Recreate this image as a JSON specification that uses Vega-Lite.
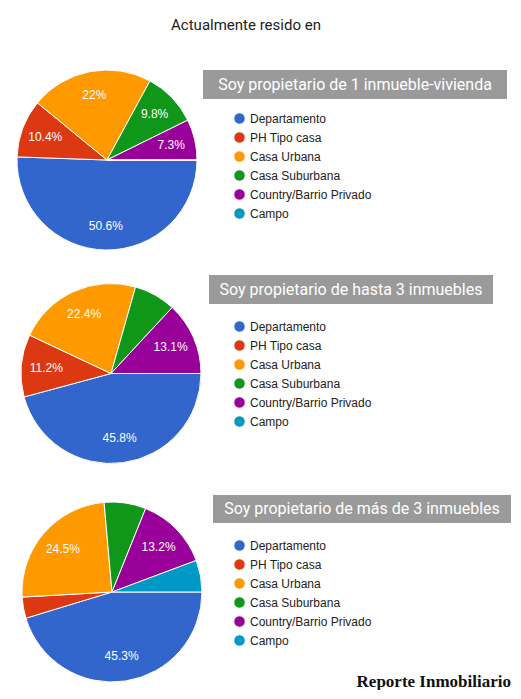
{
  "$schema": "https://vega.github.io/schema/vega-lite/v6.json",
  "padding": {"left": 15, "top": 18, "right": 0, "bottom": 0},
  "background": "white",
  "title": {
    "text": "Actualmente resido en",
    "font": "Roboto",
    "fontSize": 15,
    "fontWeight": "normal",
    "color": "#212121",
    "anchor": "middle",
    "dx": -17,
    "offset": 35
  },
  "config": {
    "view": {"stroke": null},
    "legend": {
      "orient": "none",
      "title": null,
      "symbolType": "circle",
      "symbolSize": 130,
      "symbolStrokeWidth": 0,
      "symbolOpacity": 1,
      "labelFont": "Liberation Sans",
      "labelFontSize": 12,
      "labelColor": "#222222",
      "labelOffset": 4,
      "rowPadding": 2,
      "padding": 0
    },
    "arc": {"outerRadius": 90, "stroke": "white", "strokeWidth": 1},
    "text": {"font": "Liberation Sans"}
  },
  "datasets": {
    "uno": [
      {"tipo": "Departamento", "orden": 1, "pct": 50.6, "etiqueta": "50.6%"},
      {"tipo": "PH Tipo casa", "orden": 2, "pct": 10.4, "etiqueta": "10.4%"},
      {"tipo": "Casa Urbana", "orden": 3, "pct": 22, "etiqueta": "22%"},
      {"tipo": "Casa Suburbana", "orden": 4, "pct": 9.8, "etiqueta": "9.8%"},
      {"tipo": "Country/Barrio Privado", "orden": 5, "pct": 7.3, "etiqueta": "7.3%"},
      {"tipo": "Campo", "orden": 6, "pct": 0, "etiqueta": ""}
    ],
    "hasta3": [
      {"tipo": "Departamento", "orden": 1, "pct": 45.8, "etiqueta": "45.8%"},
      {"tipo": "PH Tipo casa", "orden": 2, "pct": 11.2, "etiqueta": "11.2%"},
      {"tipo": "Casa Urbana", "orden": 3, "pct": 22.4, "etiqueta": "22.4%"},
      {"tipo": "Casa Suburbana", "orden": 4, "pct": 7.5, "etiqueta": ""},
      {"tipo": "Country/Barrio Privado", "orden": 5, "pct": 13.1, "etiqueta": "13.1%"},
      {"tipo": "Campo", "orden": 6, "pct": 0, "etiqueta": ""}
    ],
    "mas3": [
      {"tipo": "Departamento", "orden": 1, "pct": 45.3, "etiqueta": "45.3%"},
      {"tipo": "PH Tipo casa", "orden": 2, "pct": 3.8, "etiqueta": ""},
      {"tipo": "Casa Urbana", "orden": 3, "pct": 24.5, "etiqueta": "24.5%"},
      {"tipo": "Casa Suburbana", "orden": 4, "pct": 7.5, "etiqueta": ""},
      {"tipo": "Country/Barrio Privado", "orden": 5, "pct": 13.2, "etiqueta": "13.2%"},
      {"tipo": "Campo", "orden": 6, "pct": 5.7, "etiqueta": ""}
    ]
  },
  "spacing": 23,
  "resolve": {"scale": {"color": "independent", "theta": "independent"}, "legend": {"color": "independent"}},
  "vconcat": [
    {
      "bounds": "flush",
      "spacing": 6,
      "hconcat": [
        {
          "width": 180,
          "height": 180,
          "data": {"name": "uno"},
          "encoding": {
            "theta": {"field": "pct", "type": "quantitative", "stack": true, "scale": {"range": [1.5707963, 7.8539816]}},
            "order": {"field": "orden", "type": "quantitative"},
            "color": {
              "field": "tipo",
              "type": "nominal",
              "scale": {
                "domain": ["Departamento", "PH Tipo casa", "Casa Urbana", "Casa Suburbana", "Country/Barrio Privado", "Campo"],
                "range": ["#3366cc", "#dc3912", "#ff9900", "#109618", "#990099", "#0099c6"]
              },
              "legend": {"legendX": 216, "legendY": 42}
            }
          },
          "layer": [
            {"mark": {"type": "arc"}},
            {
              "mark": {"type": "text", "radius": 66, "fontSize": 12},
              "encoding": {"text": {"field": "etiqueta"}, "color": {"value": "white"}}
            }
          ]
        },
        {
          "width": 304,
          "height": 29,
          "view": {"fill": "#9a9a9a"},
          "data": {"values": [{"titulo": "Soy propietario de 1 inmueble-vivienda"}]},
          "mark": {"type": "text", "font": "Roboto", "fontSize": 16, "color": "white"},
          "encoding": {"text": {"field": "titulo"}}
        }
      ]
    },
    {
      "bounds": "flush",
      "spacing": 4,
      "hconcat": [
        {
          "width": 188,
          "height": 197,
          "data": {"name": "hasta3"},
          "encoding": {
            "theta": {"field": "pct", "type": "quantitative", "stack": true, "scale": {"range": [1.5707963, 7.8539816]}},
            "order": {"field": "orden", "type": "quantitative"},
            "color": {
              "field": "tipo",
              "type": "nominal",
              "scale": {
                "domain": ["Departamento", "PH Tipo casa", "Casa Urbana", "Casa Suburbana", "Country/Barrio Privado", "Campo"],
                "range": ["#3366cc", "#dc3912", "#ff9900", "#109618", "#990099", "#0099c6"]
              },
              "legend": {"legendX": 216, "legendY": 45}
            }
          },
          "layer": [
            {"mark": {"type": "arc"}},
            {
              "mark": {"type": "text", "radius": 65, "fontSize": 12},
              "encoding": {"text": {"field": "etiqueta"}, "color": {"value": "white"}}
            }
          ]
        },
        {
          "width": 284,
          "height": 29,
          "view": {"fill": "#9a9a9a"},
          "data": {"values": [{"titulo": "Soy propietario de hasta 3 inmuebles"}]},
          "mark": {"type": "text", "font": "Roboto", "fontSize": 16, "color": "white"},
          "encoding": {"text": {"field": "titulo"}}
        }
      ]
    },
    {
      "bounds": "flush",
      "spacing": 6,
      "title": {
        "text": "Reporte Inmobiliario",
        "orient": "bottom",
        "anchor": "end",
        "font": "Liberation Serif",
        "fontSize": 17,
        "fontWeight": "bold",
        "color": "#111111",
        "offset": -15
      },
      "hconcat": [
        {
          "width": 190,
          "height": 194,
          "data": {"name": "mas3"},
          "encoding": {
            "theta": {"field": "pct", "type": "quantitative", "stack": true, "scale": {"range": [1.5707963, 7.8539816]}},
            "order": {"field": "orden", "type": "quantitative"},
            "color": {
              "field": "tipo",
              "type": "nominal",
              "scale": {
                "domain": ["Departamento", "PH Tipo casa", "Casa Urbana", "Casa Suburbana", "Country/Barrio Privado", "Campo"],
                "range": ["#3366cc", "#dc3912", "#ff9900", "#109618", "#990099", "#0099c6"]
              },
              "legend": {"legendX": 216, "legendY": 44}
            }
          },
          "layer": [
            {"mark": {"type": "arc"}},
            {
              "mark": {"type": "text", "radius": 65, "fontSize": 12},
              "encoding": {"text": {"field": "etiqueta"}, "color": {"value": "white"}}
            }
          ]
        },
        {
          "width": 298,
          "height": 28,
          "view": {"fill": "#9a9a9a"},
          "data": {"values": [{"titulo": "Soy propietario de más de 3 inmuebles"}]},
          "mark": {"type": "text", "font": "Roboto", "fontSize": 16, "color": "white"},
          "encoding": {"text": {"field": "titulo"}}
        }
      ]
    }
  ]
}
